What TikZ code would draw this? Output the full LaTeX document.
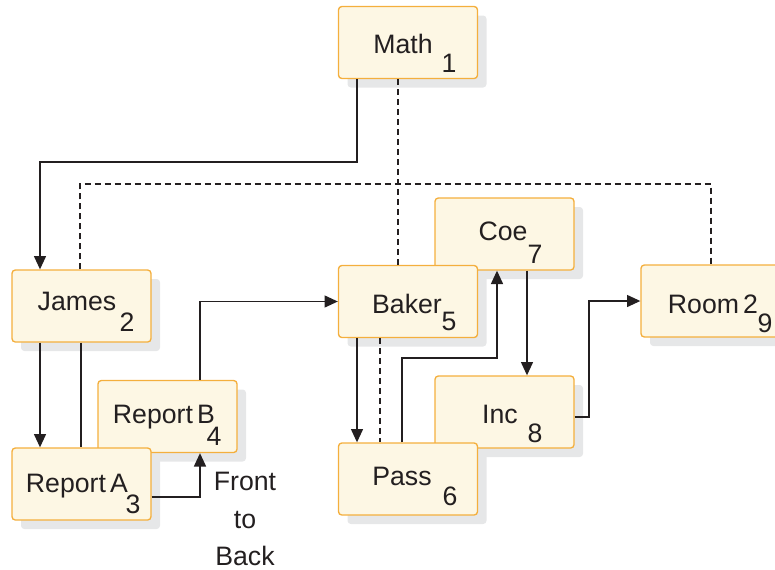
\documentclass[tikz,border=0pt]{standalone}
\usepackage{fontspec}
\setmainfont{Liberation Sans}
\usetikzlibrary{arrows.meta,shadows}
\definecolor{boxfill}{HTML}{FDF7E4}
\definecolor{boxline}{HTML}{F4AF3D}
\definecolor{shadowgray}{HTML}{E6E7E8}
\definecolor{ink}{HTML}{231F20}
\begin{document}
\begin{tikzpicture}[x=0.75pt,y=-0.75pt,
  box/.style={rectangle, rounded corners=2.5pt, draw=boxline, line width=1pt,
    fill=boxfill, minimum width=104.25pt, minimum height=54pt, inner sep=0pt,
    drop shadow={shadow xshift=6.75pt, shadow yshift=-6.75pt, fill=shadowgray, opacity=1}},
  lbl/.style={anchor=base, inner sep=0pt, text=ink, font=\fontsize{20}{24}\selectfont},
  conn/.style={draw=ink, line width=1.1pt},
  arr/.style={conn, -{Triangle[length=10pt,width=9pt]}},
  dconn/.style={conn, dash pattern=on 4.5pt off 3pt},
]
\useasboundingbox (0,0) rectangle (775,569);
\clip (0,0) rectangle (775,569);
% boxes
\node[box] (math) at (408,42.5) {};
\node[box] (james) at (81.5,306) {};
\node[box] (reportB) at (167.5,416.5) {};
\node[box] (reportA) at (81.5,484) {};
\node[box] (coe) at (504.5,234) {};
\node[box] (baker) at (408,301.5) {};
\node[box] (inc) at (504.5,412) {};
\node[box] (pass) at (408,479) {};
\node[box] (room) at (710.5,301) {};
% labels
\node[lbl] (mathT) at (403,53) {Math};
\node[lbl] (mathN) at (449,72) {1};
\node[lbl] (jamesT) at (77,310) {James};
\node[lbl] (jamesN) at (127,331) {2};
\node[lbl] (reportBT) at (164,423) {Report\kern-0.12em\ B};
\node[lbl] (reportBN) at (214,445) {4};
\node[lbl] (reportAT) at (77,492) {Report\kern-0.12em\ A};
\node[lbl] (reportAN) at (133,513) {3};
\node[lbl] (bakerT) at (407,313) {Baker};
\node[lbl] (bakerN) at (449,330) {5};
\node[lbl] (coeT) at (503,240) {Coe};
\node[lbl] (coeN) at (535,263) {7};
\node[lbl] (incT) at (500,423) {Inc};
\node[lbl] (incN) at (535,442) {8};
\node[lbl] (passT) at (402,485) {Pass};
\node[lbl] (passN) at (450,505) {6};
\node[lbl] (roomT) at (713,313) {Room\kern-0.12em\ 2};
\node[lbl] (roomN) at (765,332) {9};
\node[lbl] (ftb1) at (245,490) {Front};
\node[lbl] (ftb2) at (245,528) {to};
\node[lbl] (ftb3) at (245,565) {Back};
% connectors
\draw[arr] (math.south -| 357,0) -- (357,162) -| (james.north -| 40,0);
\draw[dconn] (math.south -| 398,0) -- (baker.north -| 398,0);
\draw[dconn] (james.north -| 80,0) |- (711,184) -- (room.north -| 711,0);
\draw[arr] (james.south -| 40,0) -- (reportA.north -| 40,0);
\draw[conn] (james.south -| 81,0) -- (reportA.north -| 81,0);
\draw[arr] (reportB.north -| 200,0) |- (baker.west);
\draw[arr] (reportA.east |- 0,497) -| (reportB.south -| 200,0);
\draw[arr] (baker.south -| 357,0) -- (pass.north -| 357,0);
\draw[dconn] (baker.south -| 380,0) -- (pass.north -| 380,0);
\draw[arr] (pass.north -| 402,0) -- (402,358) -| (coe.south -| 497,0);
\draw[arr] (coe.south -| 527,0) -- (inc.north -| 527,0);
\draw[arr] (inc.east |- 0,417) -- (589,417) |- (room.west);
\end{tikzpicture}
\end{document}
